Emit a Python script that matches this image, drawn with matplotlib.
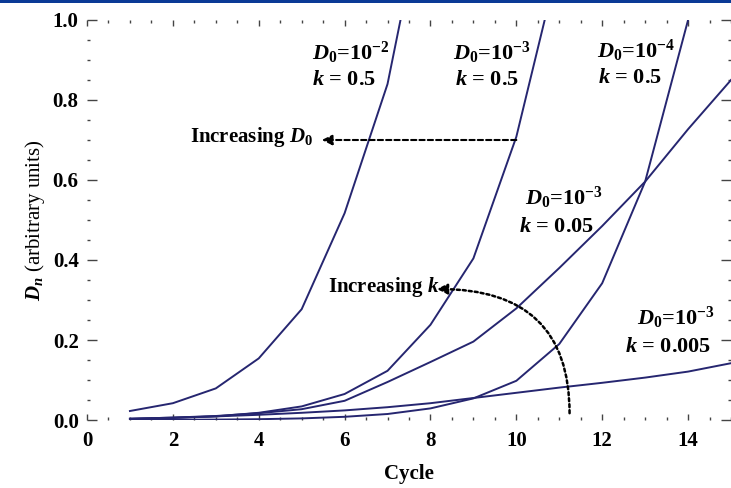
import matplotlib
matplotlib.use("Agg")
import matplotlib.pyplot as plt
from matplotlib.patches import Rectangle
from matplotlib.ticker import MultipleLocator, FormatStrFormatter

plt.rcParams['font.family'] = ['Liberation Serif', 'DejaVu Serif']
plt.rcParams['font.weight'] = 'bold'
plt.rcParams['mathtext.fontset'] = 'custom'
plt.rcParams['mathtext.rm'] = 'Liberation Serif:bold'
plt.rcParams['mathtext.it'] = 'Liberation Serif:italic:bold'
plt.rcParams['mathtext.bf'] = 'Liberation Serif:bold'

# damage per cycle for each (D0, k) pair
cyc_a = [1, 2, 3, 4, 5, 6, 7, 8]
dmg_a = [0.0225, 0.042, 0.079, 0.154, 0.277, 0.517, 0.84, 1.37]          # D0=1e-2, k=0.5

cyc_b = [1, 2, 3, 4, 5, 6, 7, 8, 9, 10, 11]
dmg_b = [0.003, 0.005, 0.009, 0.018, 0.034, 0.065, 0.123, 0.238, 0.404, 0.708, 1.15]  # D0=1e-3, k=0.5

cyc_c = [1, 2, 3, 4, 5, 6, 7, 8, 9, 10, 11, 12, 13, 14, 15]
dmg_c = [0.0003, 0.0006, 0.001, 0.002, 0.004, 0.008, 0.015, 0.029, 0.054,
         0.098, 0.19, 0.342, 0.596, 1.0, 1.6]                            # D0=1e-4, k=0.5

cyc_d = [1, 2, 3, 4, 5, 6, 7, 8, 9, 10, 11, 12, 13, 14, 15]
dmg_d = [0.003, 0.006, 0.01, 0.017, 0.027, 0.048, 0.095, 0.145, 0.196,
         0.279, 0.38, 0.485, 0.596, 0.727, 0.85]                         # D0=1e-3, k=0.05

cyc_e = [1, 2, 3, 4, 5, 6, 7, 8, 9, 10, 11, 12, 13, 14, 15]
dmg_e = [0.003, 0.006, 0.009, 0.013, 0.018, 0.024, 0.032, 0.042, 0.055,
         0.068, 0.081, 0.093, 0.106, 0.121, 0.142]                       # D0=1e-3, k=0.005

line_color = '#262670'

fig = plt.figure(figsize=(7.31, 4.88), dpi=100)
fig.add_artist(Rectangle((0, 1 - 3 / 488), 1, 3 / 488, transform=fig.transFigure,
                         color='#0a3a96', lw=0))
ax = fig.add_axes([87 / 731, 68 / 488, 644 / 731, 400 / 488])

for cyc, dmg in [(cyc_a, dmg_a), (cyc_b, dmg_b), (cyc_c, dmg_c), (cyc_d, dmg_d), (cyc_e, dmg_e)]:
    ax.plot(cyc, dmg, color=line_color, lw=1.4)

ax.set_xlim(0, 15)
ax.set_ylim(0, 1.0)
ax.xaxis.set_major_locator(MultipleLocator(2))
ax.xaxis.set_minor_locator(MultipleLocator(0.5))
ax.yaxis.set_major_locator(MultipleLocator(0.2))
ax.yaxis.set_minor_locator(MultipleLocator(0.05))
ax.yaxis.set_major_formatter(FormatStrFormatter('%.1f'))
for s in ax.spines.values():
    s.set_visible(False)
ax.tick_params(which='both', direction='in', top=True, right=True, color='#444444',
               labelsize=15)
ax.tick_params(axis='y', which='major', length=7, width=1, pad=6)
ax.tick_params(axis='y', which='minor', length=2, width=1)
ax.tick_params(axis='x', which='major', length=4, width=1, pad=8)
ax.tick_params(axis='x', which='minor', length=2, width=1)

ax.set_xlabel('Cycle', fontsize=15, fontweight='bold', labelpad=9)
ax.set_ylabel(r'$D_n$ (arbitrary units)', fontsize=15, fontweight='normal', labelpad=4)

# curve labels
lab = dict(fontsize=16, ha='left', va='baseline')
ax.text(5.23, 0.900, r'$D_0$=10$^{-2}$', **lab)
ax.text(5.24, 0.8375, r'$k$ = 0.5', **lab)
ax.text(8.53, 0.900, r'$D_0$=10$^{-3}$', **lab)
ax.text(8.57, 0.8375, r'$k$ = 0.5', **lab)
ax.text(11.87, 0.905, r'$D_0$=10$^{-4}$', **lab)
ax.text(11.90, 0.8425, r'$k$ = 0.5', **lab)
ax.text(10.2, 0.5375, r'$D_0$=10$^{-3}$', **lab)
ax.text(10.06, 0.471, r'$k$ = 0.05', **lab)
ax.text(12.8, 0.2375, r'$D_0$=10$^{-3}$', **lab)
ax.text(12.53, 0.171, r'$k$ = 0.005', **lab)

# trend arrows
ax.text(5.27, 0.695, r'Increasing $D_0$', fontsize=15, ha='right', va='baseline')
ax.annotate('', xy=(5.47, 0.70), xytext=(10.0, 0.70),
            arrowprops=dict(arrowstyle='-|>,head_length=0.5,head_width=0.25',
                            color='black', lw=1.5, linestyle=(0, (2.5, 1.5)),
                            mutation_scale=12, shrinkA=0, shrinkB=0))

ax.text(5.62, 0.32, r'Increasing $k$', fontsize=15, ha='left', va='baseline')
ax.annotate('', xy=(8.15, 0.3275), xytext=(11.24, 0.017),
            arrowprops=dict(arrowstyle='-|>,head_length=0.5,head_width=0.25',
                            color='black', lw=1.8, linestyle=(0, (1.2, 1.2)),
                            connectionstyle='angle3,angleA=90,angleB=0',
                            mutation_scale=12, shrinkA=0, shrinkB=0))

fig.savefig('out.png', dpi=100)
